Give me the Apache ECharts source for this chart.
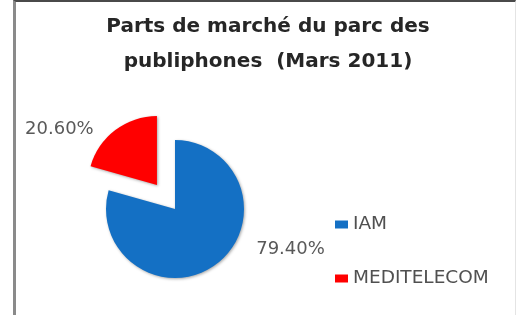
<!DOCTYPE html>
<html><head><meta charset="utf-8">
<script src="https://cdn.jsdelivr.net/npm/echarts@6/dist/echarts.min.js"></script>
<style>
html,body{margin:0;padding:0;background:#fff;}
#c{position:absolute;left:0;top:0;width:516px;height:315px;}
#b{position:absolute;left:13px;top:0;width:503px;height:315px;box-sizing:border-box;border-left:3px solid #8a8a8a;border-top:2px solid #4a4a4a;border-right:1px solid #e4e4e4;pointer-events:none;}
</style></head>
<body><div id="c"></div><div id="b"></div>
<script>
var titleLines = ['Parts de marché du parc des', 'publiphones  (Mars 2011)'];
var categories = ['IAM', 'MEDITELECOM'];
var values = [79.4, 20.6];
var colors = ['#1470c4', '#ff0000'];

var chart = echarts.init(document.getElementById('c'), null, {renderer: 'canvas'});
var data = categories.map(function (c, i) {
  var d = {name: c, value: values[i], itemStyle: {color: colors[i]}};
  if (i === 1) {
    d.selected = true;
    d.labelLine = {show: false, length: 1, length2: 16};
  } else {
    d.label = {offset: [11, -20]};
  }
  return d;
});
chart.setOption({
  animation: false,
  title: {
    text: titleLines.join('\n'),
    left: 263, textAlign: 'center', top: 4,
    textStyle: {fontFamily: 'DejaVu Sans', fontWeight: 'bold', fontSize: 20, lineHeight: 35, color: '#262626'}
  },
  legend: {
    orient: 'vertical', left: 330, top: 210, itemGap: 35,
    itemWidth: 13, itemHeight: 8, icon: 'rect',
    textStyle: {fontFamily: 'DejaVu Sans', fontSize: 18.5, color: '#505050'},
    data: categories
  },
  series: [{
    type: 'pie',
    center: [175, 209],
    radius: 69,
    startAngle: 90,
    clockwise: true,
    selectedMode: 'single',
    selectedOffset: 30,
    label: {
      show: true, position: 'outside',
      formatter: function (p) { return p.value.toFixed(2) + '%'; },
      fontFamily: 'DejaVu Sans', fontSize: 18, color: '#595959'
    },
    labelLine: {show: false, length: 6, length2: 20},
    itemStyle: {shadowBlur: 3, shadowColor: 'rgba(0,0,0,0.35)', shadowOffsetX: 1, shadowOffsetY: 1},
    data: data
  }]
});
</script></body></html>
